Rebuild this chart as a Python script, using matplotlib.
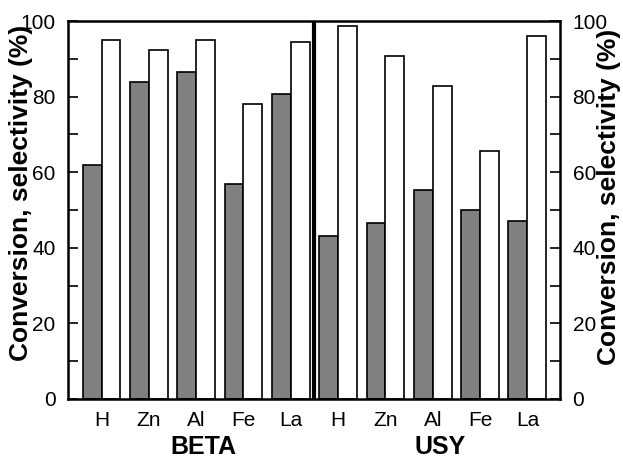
import numpy as np
import matplotlib.pyplot as plt
from matplotlib.ticker import MultipleLocator

plt.rcParams['font.family'] = ['Liberation Sans', 'DejaVu Sans']

# Catalyst cations for each zeolite group
cations = ['H', 'Zn', 'Al', 'Fe', 'La']
groups = ['BETA', 'USY']

# Conversion (grey) and selectivity (white), %
conversion_beta = [61.9, 83.8, 86.4, 57.0, 80.6]
selectivity_beta = [95.1, 92.3, 94.9, 78.0, 94.5]
conversion_usy = [43.1, 46.5, 55.3, 50.1, 47.0]
selectivity_usy = [98.6, 90.8, 82.9, 65.6, 96.1]

conversion = conversion_beta + conversion_usy
selectivity = selectivity_beta + selectivity_usy
labels = cations + cations

fig = plt.figure(figsize=(6.23, 4.59), dpi=100)
ax = fig.add_axes([0.109, 0.131, 0.790, 0.823])

x = np.arange(len(labels))
w = 0.40
ax.bar(x - w / 2, conversion, w, color='#808080', edgecolor='black', linewidth=1.2)
ax.bar(x + w / 2, selectivity, w, color='white', edgecolor='black', linewidth=1.2)

# separator between the two zeolite groups
ax.axvline(4.5, color='black', linewidth=3)

ax.set_xlim(-0.71, 9.69)
ax.set_ylim(0, 100)
ax.set_xticks(x)
ax.set_xticklabels(labels, fontsize=15)
ax.tick_params(axis='x', length=0, pad=9)

ax.yaxis.set_major_locator(MultipleLocator(20))
ax.yaxis.set_minor_locator(MultipleLocator(10))
ax.tick_params(axis='y', which='both', direction='in', left=True, right=True,
               labelleft=True, labelright=True, labelsize=15, pad=9,
               width=1.2, length=7)

for s in ax.spines.values():
    s.set_linewidth(1.8)

# group names under the cation labels
for i, g in enumerate(groups):
    ax.text(2.15 + 5 * i, -12.8, g, ha='center', va='center', fontsize=18,
            fontweight='bold', transform=ax.transData)

# y labels on both sides
ylab = 'Conversion, selectivity (%)'
fig.text(0.033, 0.58, ylab, rotation=90, ha='center', va='center',
         fontsize=19, fontweight='bold')
fig.text(0.977, 0.572, ylab, rotation=90, ha='center', va='center',
         fontsize=19, fontweight='bold')

fig.savefig('out.png', dpi=100)
